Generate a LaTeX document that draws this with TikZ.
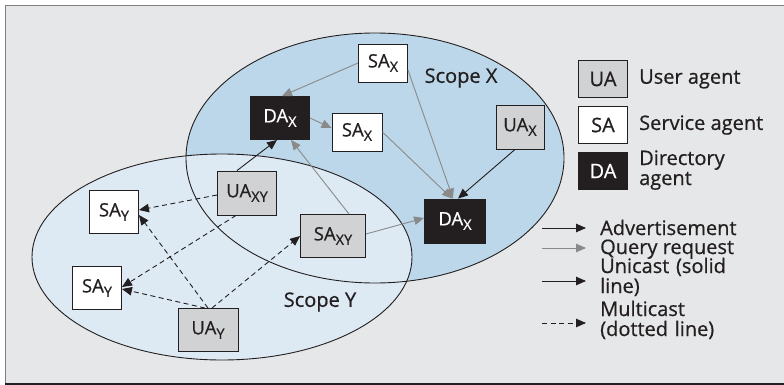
\documentclass[tikz,border=0pt]{standalone}
\usepackage{fontspec}
\setmainfont{Open Sans}[FakeBold=0.6]
\usetikzlibrary{arrows.meta}
\definecolor{panel}{HTML}{E6E7E8}
\definecolor{panelline}{HTML}{808080}
\definecolor{scopex}{HTML}{BBD7E9}
\definecolor{scopey}{HTML}{DDEAF4}
\definecolor{uagray}{HTML}{D1D2D3}
\definecolor{inkblack}{HTML}{231F20}
\definecolor{querygray}{HTML}{8A8A8A}
% agent subscript
\newcommand\agsub[1]{\raisebox{-4.5pt}{\fontsize{14.5}{14.5}\selectfont #1}}
\tikzset{
  agentbox/.style={draw=inkblack, line width=0.9pt, inner sep=0pt, text=inkblack,
    font=\fontsize{18.5}{18.5}\selectfont},
  uabox/.style={agentbox, fill=uagray},
  sabox/.style={agentbox, fill=white},
  dabox/.style={agentbox, fill=inkblack, text=white},
  tip/.style={-{Triangle[length=10pt,width=8.5pt]}},
  advarrow/.style={tip, line width=0.9pt, draw=inkblack},
  queryarrow/.style={tip, line width=0.9pt, draw=querygray},
  mcastarrow/.style={advarrow, dash pattern=on 5pt off 3.5pt},
  legendtext/.style={anchor=base west, inner sep=0pt, text=inkblack},
  scopeline/.style={draw=inkblack, line width=0.9pt}
}
\begin{document}
\begin{tikzpicture}[x=1pt, y=-1pt, font=\fontsize{20}{20}\selectfont]
\useasboundingbox (0,0) rectangle (784,385);
% panel
\fill[panel] (5,5) rectangle (784,384);
\draw[panelline, line width=1.6pt] (5.5,384) -- (5.5,5.5) -- (784,5.5);
\draw[inkblack, line width=1.2pt] (5,384) -- (784,384);

% scopes
\fill[scopex] (375,158) ellipse [x radius=189pt, y radius=125pt];
\fill[scopey] (222,257) ellipse [x radius=190pt, y radius=103pt];
\draw[scopeline] (375,158) ellipse [x radius=189pt, y radius=125pt];
\draw[scopeline] (222,257) ellipse [x radius=190pt, y radius=103pt];
\node[text=inkblack] (scopeX) at (461,78) {Scope X};
\node[text=inkblack] (scopeY) at (320,302) {Scope Y};

% agents in scope X
\node[sabox, minimum width=49pt, minimum height=38pt] (SAx1) at (383,63) {SA\agsub{X}};
\node[dabox, minimum width=59pt, minimum height=43pt] (DAx1) at (280,118) {DA\agsub{X}};
\node[sabox, minimum width=50pt, minimum height=38pt] (SAx2) at (357,132) {SA\agsub{X}};
\node[uabox, minimum width=48pt, minimum height=44pt] (UAx) at (520,127) {UA\agsub{X}};
\node[dabox, minimum width=61pt, minimum height=44pt] (DAx2) at (455,221) {DA\agsub{X}};
% agents in both scopes
\node[uabox, minimum width=59pt, minimum height=44pt] (UAxy) at (247,193) {UA\agsub{XY}};
\node[uabox, minimum width=65pt, minimum height=43pt] (SAxy) at (333,236) {SA\agsub{XY}};
% agents in scope Y
\node[sabox, minimum width=49pt, minimum height=43pt] (SAy1) at (114,212) {SA\agsub{Y}};
\node[sabox, minimum width=49pt, minimum height=43pt] (SAy2) at (97,288) {SA\agsub{Y}};
\node[uabox, minimum width=60pt, minimum height=43pt] (UAy) at (208,330) {UA\agsub{Y}};

% query requests
\draw[queryarrow] (SAx1.west) -- ([xshift=2pt]DAx1.north);
\draw[queryarrow] ([yshift=-7pt]SAx1.east) -- ([xshift=-2pt]DAx2.north);
\draw[queryarrow] (DAx1.east) -- ([yshift=4pt]SAx2.west);
\draw[queryarrow] (SAx2.east) -- ([xshift=-3pt]DAx2.north);
\draw[queryarrow] ([xshift=16pt]SAxy.north) -- ([xshift=11pt]DAx1.south);
\draw[queryarrow] ([yshift=2pt]SAxy.east) -- ([yshift=3pt]DAx2.west);
% unicast advertisements
\draw[advarrow] ([xshift=-5pt]UAx.south) -- ([xshift=3pt]DAx2.north);
\draw[advarrow] ([xshift=-10pt]UAxy.north) -- ([xshift=-3pt]DAx1.south);
% multicast
\draw[mcastarrow] ([yshift=-2pt]UAxy.west) -- ([yshift=2pt]SAy1.east);
\draw[mcastarrow] ([xshift=-11pt]UAxy.south) -- ([yshift=1pt]SAy2.east);
\draw[mcastarrow] (UAy.north) -- ([yshift=-3pt]SAy1.east);
\draw[mcastarrow] ([xshift=-3pt]UAy.north) -- ([yshift=-1pt]SAy2.east);
\draw[mcastarrow] ([xshift=4pt]UAy.north) -- (SAxy.west);

% legend: agent kinds
\node[uabox, minimum width=49pt, minimum height=37pt, font=\fontsize{20}{20}\selectfont] (legUA) at (603,79) {UA};
\node[sabox, minimum width=49pt, minimum height=37pt, font=\fontsize{20}{20}\selectfont] (legSA) at (603,125) {SA};
\node[dabox, minimum width=49pt, minimum height=37pt, font=\fontsize{20}{20}\selectfont] (legDA) at (603,171) {DA};
\node[legendtext, anchor=west] (legUAt) at (639,79) {User agent};
\node[legendtext, anchor=west] (legSAt) at (639,125) {Service agent};
\node[legendtext, text width=120pt, align=left] (legDAt) at (639,165) {Directory\\agent};

% legend: message kinds
\coordinate (a1) at (542,228); \coordinate (b1) at (586,228);
\coordinate (a2) at (542,248); \coordinate (b2) at (586,248);
\coordinate (a3) at (542,281); \coordinate (b3) at (586,281);
\coordinate (a4) at (542,323); \coordinate (b4) at (586,323);
\draw[advarrow] (a1) -- (b1);
\draw[queryarrow] (a2) -- (b2);
\draw[advarrow] (a3) -- (b3);
\draw[mcastarrow] (a4) -- (b4);
\node[legendtext] (l1) at (600,235) {Advertisement};
\node[legendtext] (l2) at (600,254) {Query request};
\node[legendtext, text width=150pt, align=left] (l3) at (600,273) {Unicast (solid\\line)};
\node[legendtext, text width=150pt, align=left] (l4) at (600,316) {Multicast\\(dotted line)};
\end{tikzpicture}
\end{document}
